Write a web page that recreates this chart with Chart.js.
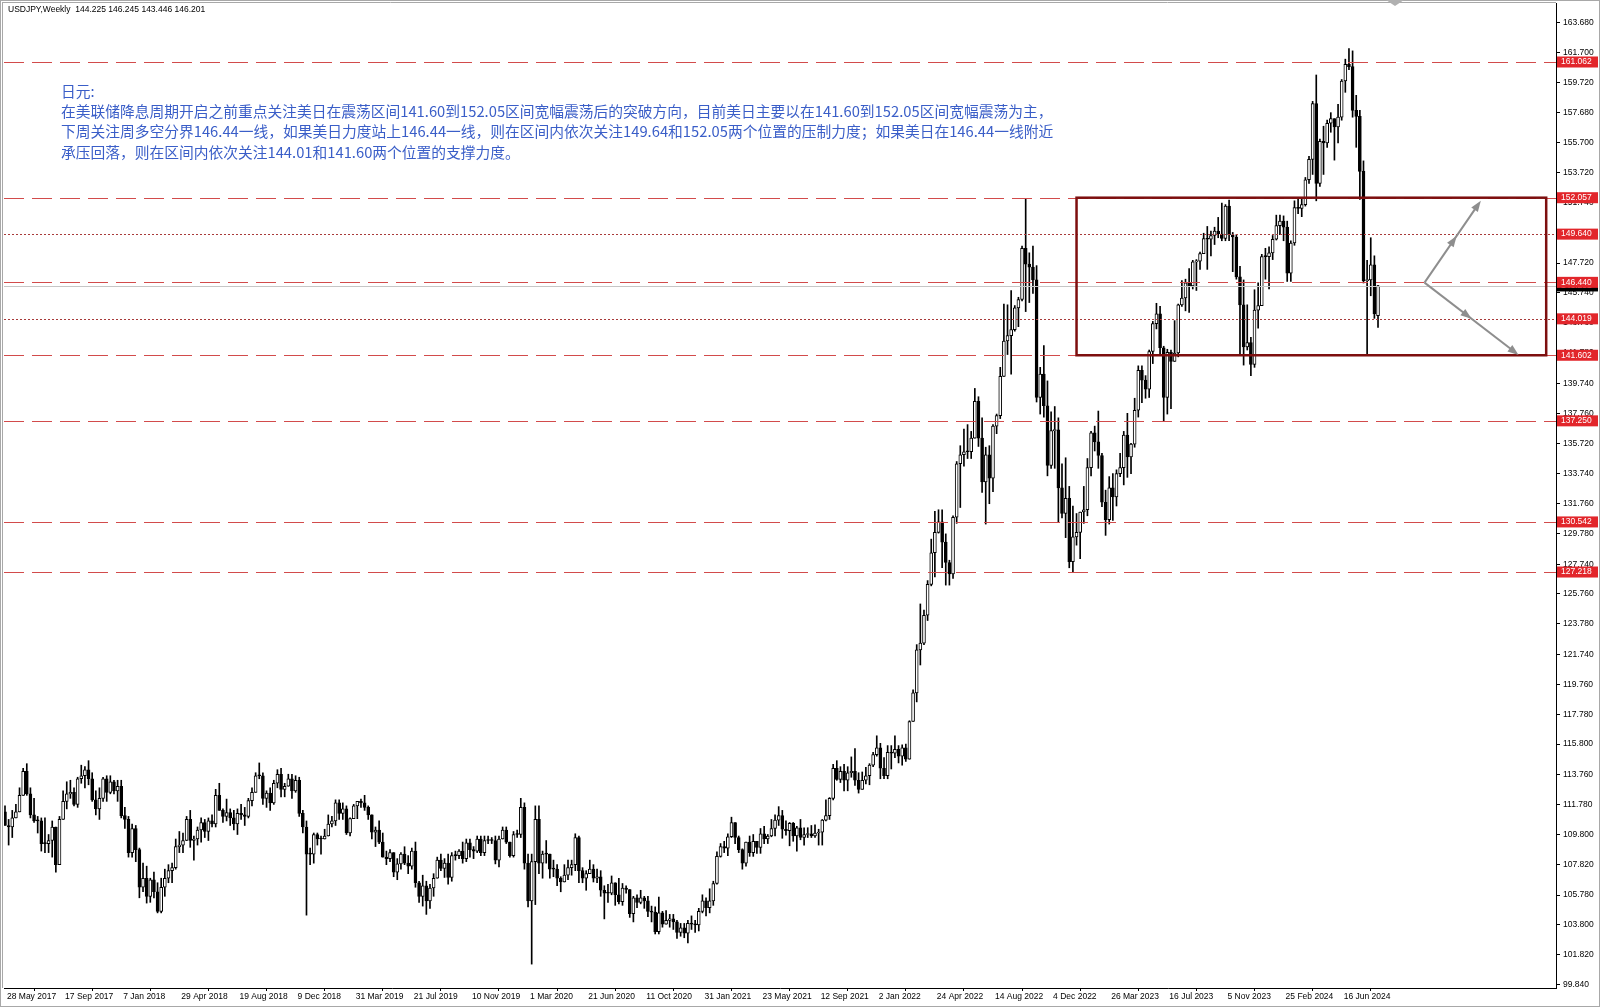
<!DOCTYPE html>
<html>
<head>
<meta charset="utf-8">
<script src="https://cdn.jsdelivr.net/npm/chart.js@4.4.1/dist/chart.umd.min.js"></script>
<style>
  html, body { margin: 0; padding: 0; background: #fff; }
  #wrap { width: 1600px; height: 1007px; }
  canvas { display: block; }
</style>
</head>
<body>
<div id="wrap"><canvas id="chart" width="1600" height="1007"></canvas></div>
<script>
// USDJPY weekly, one entry per week starting 28 May 2017
const title = 'USDJPY,Weekly  144.225 146.245 143.446 146.201';
const dateLabels = ['28 May 2017', '17 Sep 2017', '7 Jan 2018', '29 Apr 2018', '19 Aug 2018', '9 Dec 2018',
  '31 Mar 2019', '21 Jul 2019', '10 Nov 2019', '1 Mar 2020', '21 Jun 2020', '11 Oct 2020', '31 Jan 2021',
  '23 May 2021', '12 Sep 2021', '2 Jan 2022', '24 Apr 2022', '14 Aug 2022', '4 Dec 2022', '26 Mar 2023',
  '16 Jul 2023', '5 Nov 2023', '25 Feb 2024', '16 Jun 2024'];
const labelStep = 16;
const yTicks = [163.680, 161.700, 159.720, 157.680, 155.700, 153.720, 151.740, 149.760, 147.720, 145.740,
  143.760, 141.780, 139.740, 137.760, 135.720, 133.740, 131.760, 129.780, 127.740, 125.760, 123.780,
  121.740, 119.760, 117.780, 115.800, 113.760, 111.780, 109.800, 107.820, 105.780, 103.800, 101.820, 99.840];

const levelPrices = [161.062, 152.057, 149.640, 146.440, 144.019, 141.602, 137.250, 130.542, 127.218];
const dottedLevels = [149.640, 144.019];
const bidPrice = 146.201;

const opens = [
  111.30,110.40,110.30,110.90,111.30,112.40,114.00,112.50,111.10,110.70,110.70,109.20,109.20,109.40,110.30,107.80,110.80,112.00,112.50,112.60,111.80,113.50,113.70,114.10,113.50,112.10,111.50,112.20,113.50,112.60,113.30,
  112.70,113.00,111.05,110.80,108.60,110.20,108.80,106.30,106.90,105.70,106.80,106.00,104.70,106.30,106.90,107.40,107.60,109.00,109.10,109.40,110.80,109.40,109.50,110.10,110.60,110.00,110.70,110.50,112.40,111.40,111.00,111.25,110.90,110.50,111.20,111.10,111.00,112.05,112.60,113.70,113.70,112.20,112.55,111.90,113.20,113.80,112.80,113.00,113.50,112.70,113.40,111.20,110.30,
  108.50,108.50,109.80,109.50,109.50,109.70,110.50,110.70,111.90,111.20,111.50,109.90,110.85,111.70,112.00,111.90,111.60,111.10,109.95,110.10,109.30,108.30,108.20,108.60,107.30,107.85,108.50,107.90,107.70,108.70,106.60,105.70,106.40,105.40,106.25,106.90,108.10,107.55,107.90,106.95,108.40,108.40,108.70,108.20,109.25,108.80,108.70,109.50,108.60,109.40,109.40,109.40,
  108.10,109.50,110.10,109.30,108.40,109.80,109.80,111.60,107.90,105.40,108.00,110.80,107.90,108.50,108.50,107.50,107.50,106.90,106.65,107.10,107.60,107.80,109.60,107.40,106.90,107.20,107.50,106.90,107.00,106.10,105.90,105.90,106.60,105.80,105.35,106.25,106.15,104.55,105.60,105.30,105.60,105.40,104.70,104.65,103.35,104.60,103.85,104.10,104.20,104.00,103.30,103.60,
  103.25,103.90,103.85,103.80,104.70,105.40,104.95,105.40,106.55,108.35,109.00,108.90,109.65,110.60,109.60,108.80,107.90,109.30,108.60,109.35,108.95,109.85,109.50,109.70,110.20,110.75,111.05,110.15,110.05,110.55,109.70,110.25,109.60,109.80,109.85,109.70,109.90,109.95,110.75,111.05,112.20,114.20,113.45,114.00,113.40,113.90,114.00,113.40,112.80,113.40,113.70,114.40,
  115.10,115.55,114.20,113.70,115.25,115.20,115.45,115.00,115.55,114.80,117.30,119.20,122.05,122.50,124.35,126.40,128.50,129.85,130.55,129.20,127.85,127.10,130.85,134.40,135.00,135.20,135.20,136.10,138.55,136.10,133.20,135.00,133.45,136.90,137.60,140.20,142.55,142.90,143.30,144.75,145.30,148.70,147.65,147.45,146.60,138.80,140.35,138.25,134.30,136.60,136.65,132.80,
  131.10,132.10,127.90,129.55,129.85,131.20,131.35,134.15,136.45,135.85,134.95,131.85,130.70,132.80,132.20,133.75,134.15,136.30,134.85,135.70,137.95,140.60,139.95,139.35,141.85,143.70,144.35,142.10,138.80,141.80,141.20,141.75,144.95,145.40,146.40,146.20,147.80,147.85,148.35,149.35,149.30,149.55,149.85,149.65,149.35,151.50,149.60,149.45,146.80,144.95,142.15,142.45,
  141.00,144.60,144.90,148.15,148.15,148.40,149.30,150.20,150.50,150.10,147.05,149.05,151.40,151.35,151.60,153.25,154.60,158.30,153.00,155.80,155.70,157.00,157.30,156.75,157.40,159.80,160.90,160.75,157.85,157.45,153.80,146.55,146.60,147.60,144.225
];
const highs = [
  111.70,110.80,111.40,111.80,112.90,114.20,114.50,112.90,112.20,111.00,110.90,110.90,109.80,110.70,110.30,111.00,112.70,113.30,113.40,112.90,113.60,114.40,114.30,114.70,113.90,112.70,112.90,113.60,113.70,113.70,113.40,
  113.40,113.40,111.60,111.00,110.50,110.40,108.90,107.90,107.70,106.90,107.30,106.60,106.90,107.50,107.80,107.90,109.50,110.00,109.90,111.00,111.40,109.70,110.30,110.90,110.80,110.90,111.10,112.80,113.20,111.50,112.15,111.50,111.40,111.50,111.80,111.60,112.20,112.90,113.90,114.55,113.90,112.70,112.90,113.40,114.10,114.20,113.20,113.80,113.80,113.70,113.60,111.40,110.70,
  108.90,109.90,109.90,109.70,110.15,111.10,111.00,112.10,112.10,111.90,111.70,110.90,111.80,112.00,112.15,112.40,111.70,111.10,110.30,110.70,109.90,108.70,108.80,108.60,108.20,108.60,108.99,108.40,108.90,109.30,106.70,107.10,106.70,106.50,107.20,108.30,108.50,108.20,108.50,108.60,108.70,108.80,109.30,109.50,109.50,109.00,109.70,109.70,109.70,109.70,109.60,109.70,
  109.70,110.30,110.30,109.30,110.00,110.10,112.20,111.90,108.50,108.50,111.70,111.70,108.70,109.40,108.10,108.10,107.80,107.00,107.80,108.10,108.10,109.85,109.70,107.60,107.40,108.10,107.80,107.50,107.40,106.40,106.50,107.05,106.60,106.90,106.55,106.40,106.10,105.70,105.80,106.10,105.70,105.70,105.05,105.00,105.65,104.70,104.75,104.50,104.50,104.10,103.90,103.90,
  104.10,104.40,104.10,104.90,105.80,105.60,106.20,106.70,108.65,109.20,109.35,109.85,110.95,110.55,109.70,108.85,109.30,109.70,109.80,109.35,110.20,110.35,109.80,110.80,111.10,111.65,111.40,110.70,110.60,110.60,110.35,110.80,110.25,110.25,110.40,110.45,110.15,110.80,112.10,112.25,114.45,114.70,114.30,114.45,114.30,114.95,115.50,113.90,113.95,114.25,114.50,115.25,
  116.35,115.85,114.90,115.70,115.70,116.35,115.70,115.75,115.80,117.35,119.40,122.40,125.10,124.70,126.65,129.40,131.25,131.35,131.35,129.75,128.00,130.95,134.55,135.60,136.70,137.00,136.55,139.40,138.85,137.45,135.50,135.60,137.00,137.70,140.80,144.99,144.95,145.90,144.90,145.45,148.85,151.95,148.40,148.85,147.55,140.80,142.25,139.90,137.85,138.20,137.45,134.40,
  134.80,132.90,131.60,131.10,131.20,132.90,134.75,136.55,136.90,137.90,135.10,132.65,133.55,133.75,134.00,135.10,136.55,137.75,135.75,138.75,140.90,140.90,140.25,141.95,143.85,145.05,144.85,142.20,142.00,141.95,143.90,145.00,146.55,146.65,147.35,147.90,147.95,148.45,149.70,150.15,149.85,150.10,150.75,151.70,151.60,151.90,149.75,149.60,147.50,146.60,144.95,142.80,
  145.95,146.40,148.30,148.70,148.80,149.55,150.90,150.90,150.85,150.50,149.20,151.85,151.95,151.95,153.40,154.80,158.45,160.20,155.95,156.80,157.20,157.70,157.30,158.25,159.90,161.25,161.95,161.80,158.85,157.85,154.50,147.90,149.40,148.20,146.245
];
const lows = [
  110.40,109.10,109.60,110.90,111.30,112.40,112.40,110.90,110.60,109.90,108.70,108.60,108.60,108.30,107.30,107.80,110.80,111.50,112.20,111.70,111.60,113.20,112.90,113.10,112.00,111.10,110.80,112.00,112.00,112.50,112.50,
  112.00,110.90,110.20,108.30,108.30,108.00,105.60,106.00,105.25,105.30,105.60,104.60,104.60,105.70,106.60,106.60,107.50,108.60,108.60,109.40,108.95,108.10,109.10,109.30,109.60,109.40,110.30,110.30,111.40,110.60,110.70,110.40,110.10,109.80,110.80,110.40,110.90,111.70,112.60,113.50,111.80,111.60,111.40,111.80,112.90,112.30,112.30,113.00,112.20,112.60,111.00,109.90,104.45,
  107.80,107.90,109.10,108.50,109.50,109.70,110.30,110.40,110.80,110.80,109.80,109.70,110.85,110.85,111.60,111.40,110.80,109.50,109.00,109.20,108.30,107.80,108.00,107.00,106.80,107.50,107.80,107.20,107.50,106.30,105.30,105.05,104.50,104.90,105.70,106.90,107.40,106.95,106.50,106.70,108.10,108.20,107.90,108.00,108.30,108.20,108.60,108.40,108.40,109.20,109.20,107.85,
  107.65,109.50,109.20,108.30,108.30,109.60,109.60,107.50,105.00,101.20,105.15,107.20,106.90,107.90,106.90,107.00,106.40,106.00,106.70,106.80,107.10,107.40,106.60,106.60,106.10,107.20,106.65,106.60,105.70,104.20,105.30,105.80,105.10,105.20,105.10,105.90,104.30,104.00,104.95,105.20,104.90,104.35,104.00,103.20,103.20,103.65,103.90,103.65,103.50,102.90,103.05,102.95,
  102.60,103.50,103.30,103.40,104.60,104.40,104.60,105.10,106.50,108.30,108.60,108.40,109.60,109.20,108.60,107.50,107.70,108.35,108.35,108.55,108.55,109.20,109.20,109.65,109.70,110.40,109.55,109.75,109.05,109.35,108.70,109.45,109.10,109.60,109.60,109.60,109.10,109.10,110.70,110.80,112.10,113.40,113.25,112.70,112.70,113.60,113.05,112.55,113.00,113.15,113.10,114.30,
  115.00,113.50,113.50,113.50,114.15,114.90,114.55,114.40,114.65,114.80,117.60,118.60,121.05,122.40,124.00,126.30,126.90,129.80,127.50,126.35,126.35,126.80,130.45,131.50,134.25,134.75,134.75,136.10,135.55,132.50,130.40,131.75,132.55,136.40,137.40,140.25,141.65,140.35,143.20,143.50,145.20,144.50,145.10,145.70,138.50,137.70,137.50,133.60,134.10,134.10,130.55,130.80,
  129.50,127.50,127.20,129.00,128.10,130.45,130.95,133.60,135.25,134.10,131.55,129.65,130.40,130.65,131.60,133.55,133.00,133.50,133.75,135.50,137.50,138.45,138.75,138.80,141.05,143.35,141.60,137.25,137.70,138.05,141.50,141.50,144.85,144.55,144.45,146.00,145.90,147.30,148.35,147.30,148.20,148.95,149.40,149.20,149.20,149.20,147.15,146.65,141.60,140.95,141.95,140.25,
  140.80,143.40,144.90,146.65,146.00,147.95,149.25,149.60,149.20,146.50,146.50,148.90,151.00,150.80,151.50,153.00,153.60,151.85,152.80,153.60,155.40,156.40,154.55,155.70,157.20,159.05,160.55,157.40,155.40,151.95,146.40,141.70,145.55,144.05,143.446
];
const closes = [
  110.40,110.30,110.90,111.30,112.40,114.00,112.50,111.10,110.70,110.70,109.20,109.20,109.40,110.30,107.80,110.80,112.00,112.50,112.60,111.80,113.50,113.70,114.10,113.50,112.10,111.50,112.20,113.50,112.60,113.30,112.70,
  113.00,111.05,110.80,108.60,110.20,108.80,106.30,106.90,105.70,106.80,106.00,104.70,106.30,106.90,107.40,107.60,109.00,109.10,109.40,110.80,109.40,109.50,110.10,110.60,110.00,110.70,110.50,112.40,111.40,111.00,111.25,110.90,110.50,111.20,111.10,111.00,112.05,112.60,113.70,113.70,112.20,112.55,111.90,113.20,113.80,112.80,113.00,113.50,112.70,113.40,111.20,110.30,108.50,
  108.50,109.80,109.50,109.50,109.70,110.50,110.70,111.90,111.20,111.50,109.90,110.85,111.70,112.00,111.90,111.60,111.10,109.95,110.10,109.30,108.30,108.20,108.60,107.30,107.85,108.50,107.90,107.70,108.70,106.60,105.70,106.40,105.40,106.25,106.90,108.10,107.55,107.90,106.95,108.40,108.40,108.70,108.20,109.25,108.80,108.70,109.50,108.60,109.40,109.40,109.40,108.10,
  109.50,110.10,109.30,108.40,109.80,109.80,111.60,107.90,105.40,108.00,110.80,107.90,108.50,108.50,107.50,107.50,106.90,106.65,107.10,107.60,107.80,109.60,107.40,106.90,107.20,107.50,106.90,107.00,106.10,105.90,105.90,106.60,105.80,105.35,106.25,106.15,104.55,105.60,105.30,105.60,105.40,104.70,104.65,103.35,104.60,103.85,104.10,104.20,104.00,103.30,103.60,103.25,
  103.90,103.85,103.80,104.70,105.40,104.95,105.40,106.55,108.35,109.00,108.90,109.65,110.60,109.60,108.80,107.90,109.30,108.60,109.35,108.95,109.85,109.50,109.70,110.20,110.75,111.05,110.15,110.05,110.55,109.70,110.25,109.60,109.80,109.85,109.70,109.90,109.95,110.75,111.05,112.20,114.20,113.45,114.00,113.40,113.90,114.00,113.40,112.80,113.40,113.70,114.40,115.10,
  115.55,114.20,113.70,115.25,115.20,115.45,115.00,115.55,114.80,117.30,119.20,122.05,122.50,124.35,126.40,128.50,129.85,130.55,129.20,127.85,127.10,130.85,134.40,135.00,135.20,135.20,136.10,138.55,136.10,133.20,135.00,133.45,136.90,137.60,140.20,142.55,142.90,143.30,144.75,145.30,148.70,147.65,147.45,146.60,138.80,140.35,138.25,134.30,136.60,136.65,132.80,131.10,
  132.10,127.90,129.55,129.85,131.20,131.35,134.15,136.45,135.85,134.95,131.85,130.70,132.80,132.20,133.75,134.15,136.30,134.85,135.70,137.95,140.60,139.95,139.35,141.85,143.70,144.35,142.10,138.80,141.80,141.20,141.75,144.95,145.40,146.40,146.20,147.80,147.85,148.35,149.35,149.30,149.55,149.85,149.65,149.35,151.50,149.60,149.45,146.80,144.95,142.15,142.45,141.00,
  144.60,144.90,148.15,148.15,148.40,149.30,150.20,150.50,150.10,147.05,149.05,151.40,151.35,151.60,153.25,154.60,158.30,153.00,155.80,155.70,157.00,157.30,156.75,157.40,159.80,160.90,160.75,157.85,157.45,153.80,146.55,146.60,147.60,144.35,146.201
];

const noteLines = [
  '日元:',
  '在美联储降息周期开启之前重点关注美日在震荡区间141.60到152.05区间宽幅震荡后的突破方向，目前美日主要以在141.60到152.05区间宽幅震荡为主，',
  '下周关注周多空分界146.44一线，如果美日力度站上146.44一线，则在区间内依次关注149.64和152.05两个位置的压制力度；如果美日在146.44一线附近',
  '承压回落，则在区间内依次关注144.01和141.60两个位置的支撑力度。'
];

// annotation objects in data units (bar index, price)
const box = { x0: 295.0, x1: 424.3, top: 152.057, bottom: 141.602 };
const arrows = [
  { from: [390.8, 146.42], to: [406.3, 151.86], head: 0.57 },
  { from: [390.8, 146.42], to: [416.7, 141.62], head: 0.50 }
];

const AXIS_FONT = '8.5px "Liberation Sans", Arial, sans-serif';

const bodies = closes.map((c, i) => ({ x: i, y: [Math.min(opens[i], c), Math.max(opens[i], c)] }));
const wicks = closes.map((c, i) => ({
  x: i,
  y: [Math.min(lows[i], opens[i], c), Math.max(highs[i], opens[i], c)]
}));
const bodyColors = closes.map((c, i) => c > opens[i] ? '#ffffff' : '#000000');

function arrowHead(ctx, x, y, ang, len, half) {
  ctx.beginPath();
  ctx.moveTo(x, y);
  ctx.lineTo(x - len * Math.cos(ang) + half * Math.sin(ang), y - len * Math.sin(ang) - half * Math.cos(ang));
  ctx.lineTo(x - len * Math.cos(ang) - half * Math.sin(ang), y - len * Math.sin(ang) + half * Math.cos(ang));
  ctx.closePath();
  ctx.fill();
}

const overlay = {
  id: 'overlay',
  afterDatasetsDraw(chart) {
    const { ctx, chartArea: a, scales: { x, y } } = chart;
    ctx.save();
    ctx.beginPath();
    ctx.rect(a.left, a.top, a.right - a.left, a.bottom - a.top);
    ctx.clip();

    // bid line
    ctx.lineWidth = 1;
    ctx.strokeStyle = '#c6c6c6';
    const by = Math.round(y.getPixelForValue(bidPrice)) + 0.5;
    ctx.beginPath(); ctx.moveTo(a.left, by); ctx.lineTo(a.right, by); ctx.stroke();

    // horizontal levels
    levelPrices.forEach(p => {
      const dotted = dottedLevels.includes(p);
      const py = Math.round(y.getPixelForValue(p)) + 0.5;
      ctx.strokeStyle = dotted ? '#a83a3a' : '#d24b4b';
      ctx.setLineDash(dotted ? [2, 2] : [20, 8]);
      ctx.beginPath(); ctx.moveTo(a.left, py); ctx.lineTo(a.right, py); ctx.stroke();
    });
    ctx.setLineDash([]);

    // range box
    ctx.strokeStyle = '#7d0f0f';
    ctx.lineWidth = 2.5;
    const bx0 = x.getPixelForValue(box.x0), bx1 = x.getPixelForValue(box.x1);
    const by0 = y.getPixelForValue(box.top), by1 = y.getPixelForValue(box.bottom);
    ctx.strokeRect(bx0, by0, bx1 - bx0, by1 - by0);

    // arrows
    ctx.strokeStyle = '#8e8e8e';
    ctx.fillStyle = '#8e8e8e';
    ctx.lineWidth = 2;
    arrows.forEach(ar => {
      const x0 = x.getPixelForValue(ar.from[0]), y0 = y.getPixelForValue(ar.from[1]);
      const x1 = x.getPixelForValue(ar.to[0]), y1 = y.getPixelForValue(ar.to[1]);
      const ang = Math.atan2(y1 - y0, x1 - x0);
      ctx.beginPath(); ctx.moveTo(x0, y0); ctx.lineTo(x1 - 6 * Math.cos(ang), y1 - 6 * Math.sin(ang)); ctx.stroke();
      arrowHead(ctx, x0 + (x1 - x0) * ar.head, y0 + (y1 - y0) * ar.head, ang, 11, 4);
      arrowHead(ctx, x1, y1, ang, 11, 4);
    });

    // commentary
    ctx.fillStyle = '#3a5ec8';
    ctx.font = '14.75px "Noto Sans CJK SC", sans-serif';
    ctx.textBaseline = 'middle';
    ctx.textAlign = 'left';
    noteLines.forEach((t, k) => ctx.fillText(t, 61, 91 + k * 20.4));

    ctx.restore();
  },
  afterDraw(chart) {
    const { ctx, chartArea: a, scales: { y } } = chart;
    ctx.save();
    ctx.font = AXIS_FONT;
    ctx.textBaseline = 'middle';
    ctx.textAlign = 'left';

    // bid price label
    const bp = y.getPixelForValue(bidPrice);
    ctx.fillStyle = '#000';
    ctx.fillRect(a.right + 1, bp - 5.5, 41, 11);
    ctx.fillStyle = '#fff';
    ctx.fillText(bidPrice.toFixed(3), a.right + 5, bp);

    // level labels
    levelPrices.forEach(p => {
      const py = y.getPixelForValue(p);
      ctx.fillStyle = '#e2262b';
      ctx.fillRect(a.right + 1, py - 5.5, 41, 11);
      ctx.fillStyle = '#fff';
      ctx.fillText(p.toFixed(3), a.right + 5, py);
    });

    // header
    ctx.fillStyle = '#000';
    ctx.fillText(title, 8, 10);

    // window frame and chart shift marker
    ctx.strokeStyle = '#a8a8a8';
    ctx.lineWidth = 1;
    ctx.strokeRect(0.5, 0.5, chart.width - 1, chart.height - 1);
    ctx.beginPath(); ctx.moveTo(2.5, 2); ctx.lineTo(2.5, a.bottom); ctx.moveTo(2, 2.5); ctx.lineTo(a.right, 2.5); ctx.stroke();
    ctx.fillStyle = '#b0b0b0';
    ctx.beginPath(); ctx.moveTo(1386, 0); ctx.lineTo(1404, 0); ctx.lineTo(1395, 6); ctx.closePath(); ctx.fill();
    ctx.restore();
  }
};

new Chart(document.getElementById('chart').getContext('2d'), {
  type: 'bar',
  data: {
    datasets: [
      {
        data: bodies,
        backgroundColor: bodyColors,
        borderColor: '#000',
        borderWidth: 1,
        borderSkipped: false,
        barThickness: 3,
        minBarLength: 1,
        grouped: false,
        order: 0
      },
      {
        data: wicks,
        backgroundColor: '#000',
        borderWidth: 0,
        barThickness: 1,
        grouped: false,
        order: 1
      }
    ]
  },
  options: {
    responsive: false,
    animation: false,
    events: [],
    layout: { padding: { left: 4, top: 3, right: 0, bottom: 0 } },
    plugins: { legend: { display: false }, tooltip: { enabled: false } },
    scales: {
      x: {
        type: 'linear',
        min: -0.275,
        max: 427.0,
        offset: false,
        afterFit: s => { s.height = 19; s.paddingLeft = 0; s.paddingRight = 0; },
        afterBuildTicks: s => { s.ticks = dateLabels.map((d, k) => ({ value: k * labelStep })); },
        grid: { display: true, drawOnChartArea: false, drawTicks: true, tickLength: 3, color: '#000' },
        border: { display: true, color: '#000' },
        ticks: {
          autoSkip: false,
          maxRotation: 0,
          align: 'start',
          labelOffset: 2,
          padding: 1,
          color: '#000',
          font: { family: '"Liberation Sans", Arial, sans-serif', size: 8.5 },
          callback: v => dateLabels[Math.round(v / labelStep)] || ''
        }
      },
      y: {
        position: 'right',
        min: 99.615,
        max: 164.977,
        afterFit: s => { s.width = 44; s.paddingTop = 0; s.paddingBottom = 0; },
        afterBuildTicks: s => { s.ticks = yTicks.map(v => ({ value: v })); },
        grid: { display: true, drawOnChartArea: false, drawTicks: true, tickLength: 4, color: '#000' },
        border: { display: true, color: '#000' },
        ticks: {
          padding: 3,
          color: '#000',
          font: { family: '"Liberation Sans", Arial, sans-serif', size: 8.5 },
          callback: v => Number(v).toFixed(3)
        }
      }
    }
  },
  plugins: [overlay]
});
</script>
</body>
</html>
